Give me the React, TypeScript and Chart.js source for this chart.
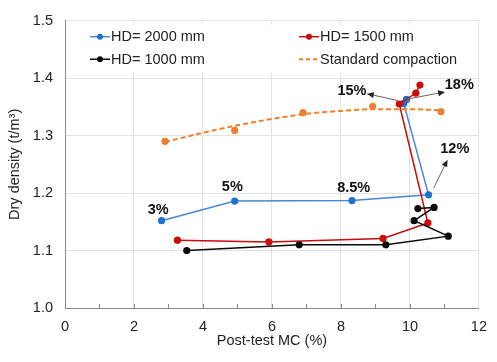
import React, { useEffect, useRef } from 'react';
import { Chart, registerables } from 'chart.js';

Chart.register(...registerables);

const FONT = '"Liberation Sans", Arial, sans-serif';

// ---- data ----
const blueX = [2.8, 4.92, 8.32, 10.54, 9.82, 9.9];
const blueY = [1.152, 1.186, 1.187, 1.197, 1.356, 1.363];

const redX = [3.26, 5.91, 9.22, 10.52, 9.69, 10.17, 10.29];
const redY = [1.118, 1.115, 1.121, 1.148, 1.355, 1.374, 1.388];

const blackX = [3.53, 6.79, 9.3, 11.11, 10.12, 10.7, 10.23];
const blackY = [1.1, 1.11, 1.11, 1.125, 1.152, 1.175, 1.173];

const stdX = [2.9, 4.92, 6.9, 8.92, 10.9];
const stdY = [1.29, 1.309, 1.34, 1.351, 1.342];

const trendX = [2.9, 4, 5, 6, 7, 8, 9, 10, 10.9];
const trendY = [1.289, 1.305, 1.318, 1.329, 1.338, 1.343, 1.346, 1.346, 1.344];

const seriesNames = ['HD= 2000 mm', 'HD= 1500 mm', 'HD= 1000 mm', 'Standard compaction'];

const annoLabels = ['3%', '5%', '8.5%', '12%', '15%', '18%'];
const annoX = [2.7, 4.85, 8.37, 11.3, 8.32, 11.43];
const annoY = [1.171, 1.21, 1.208, 1.276, 1.377, 1.388];

const arrowFromX = [10.69, 9.65, 9.87];
const arrowFromY = [1.209, 1.361, 1.363];
const arrowToX = [11.09, 8.75, 11.02];
const arrowToY = [1.258, 1.373, 1.376];

const xTitle = 'Post-test MC (%)';
const yTitle = 'Dry density (t/m³)';

const BLUE_LINE = '#4a86d8';
const BLUE_PT = '#1c72cf';
const RED = '#cc0a0a';
const BLACK = '#0a0a0a';
const ORANGE = '#f07f2e';

const zip = (xs: number[], ys: number[]) => xs.map((x, i) => ({ x, y: ys[i] }));

const legendPlugin = {
  id: 'customLegend',
  beforeDatasetsDraw(chart: any) {
    const { ctx, chartArea: a } = chart;
    ctx.save();
    ctx.fillStyle = '#ffffff';
    ctx.fillRect(a.left + 1, a.top + 4, a.right - a.left - 2, 48);
    const colors = [BLUE_LINE, RED, BLACK, ORANGE];
    const ptColors = [BLUE_PT, RED, BLACK, ORANGE];
    seriesNames.forEach((name, i) => {
      const col = i % 2;
      const row = Math.floor(i / 2);
      const sx = a.left + (col ? 234 : 25);
      const sy = a.top + (row ? 38.5 : 16);
      ctx.strokeStyle = colors[i];
      ctx.lineWidth = i === 3 ? 2 : 1.5;
      ctx.setLineDash(i === 3 ? [4, 3] : []);
      ctx.beginPath();
      ctx.moveTo(sx, sy);
      ctx.lineTo(sx + 20, sy);
      ctx.stroke();
      ctx.setLineDash([]);
      if (i < 3) {
        ctx.fillStyle = ptColors[i];
        ctx.beginPath();
        ctx.arc(sx + 10, sy, 3, 0, Math.PI * 2);
        ctx.fill();
      }
      ctx.fillStyle = '#222';
      ctx.font = `14.5px ${FONT}`;
      ctx.textAlign = 'left';
      ctx.textBaseline = 'middle';
      ctx.fillText(name, sx + 21, sy + 0.5);
    });
    ctx.restore();
  },
  afterDatasetsDraw(chart: any) {
    const { ctx, chartArea: a, scales } = chart;
    const xs = scales.x;
    const ys = scales.y;
    ctx.save();
    // inside minor ticks on x axis
    ctx.strokeStyle = '#888';
    ctx.lineWidth = 1;
    for (let v = Math.ceil(xs.min) + 1; v < xs.max; v++) {
      const px = Math.round(xs.getPixelForValue(v)) + 0.5;
      ctx.beginPath();
      ctx.moveTo(px, a.bottom);
      ctx.lineTo(px, a.bottom - 4);
      ctx.stroke();
    }
    // arrows
    arrowFromX.forEach((fx, i) => {
      const x1 = xs.getPixelForValue(fx);
      const y1 = ys.getPixelForValue(arrowFromY[i]);
      const x2 = xs.getPixelForValue(arrowToX[i]);
      const y2 = ys.getPixelForValue(arrowToY[i]);
      const ang = Math.atan2(y2 - y1, x2 - x1);
      const L = 7;
      const W = 3;
      const bx = x2 - L * Math.cos(ang);
      const by = y2 - L * Math.sin(ang);
      ctx.strokeStyle = '#666';
      ctx.lineWidth = 1;
      ctx.beginPath();
      ctx.moveTo(x1, y1);
      ctx.lineTo(bx, by);
      ctx.stroke();
      ctx.fillStyle = '#222';
      ctx.beginPath();
      ctx.moveTo(x2, y2);
      ctx.lineTo(bx + W * Math.sin(ang), by - W * Math.cos(ang));
      ctx.lineTo(bx - W * Math.sin(ang), by + W * Math.cos(ang));
      ctx.closePath();
      ctx.fill();
    });
    // labels
    ctx.fillStyle = '#111';
    ctx.font = `bold 14.5px ${FONT}`;
    ctx.textAlign = 'center';
    ctx.textBaseline = 'middle';
    annoLabels.forEach((t, i) => {
      ctx.fillText(t, xs.getPixelForValue(annoX[i]), ys.getPixelForValue(annoY[i]));
    });
    ctx.restore();
  },
};

export default function App() {
  const ref = useRef<HTMLCanvasElement | null>(null);
  useEffect(() => {
    if (!ref.current) return;
    const lineDs = (label: string, xs: number[], ys: number[], line: string, pt: string) => ({
      label,
      data: zip(xs, ys),
      showLine: true,
      borderColor: line,
      borderWidth: 1.5,
      backgroundColor: pt,
      pointBackgroundColor: pt,
      pointBorderColor: pt,
      pointBorderWidth: 0,
      pointRadius: 3.6,
      tension: 0,
    });
    const chart = new Chart(ref.current, {
      type: 'scatter',
      data: {
        datasets: [
          {
            label: 'trend',
            data: zip(trendX, trendY),
            showLine: true,
            borderColor: ORANGE,
            borderWidth: 2,
            borderDash: [5, 3],
            pointRadius: 0,
            tension: 0.4,
            cubicInterpolationMode: 'monotone',
          } as any,
          {
            label: seriesNames[3],
            data: zip(stdX, stdY),
            showLine: false,
            pointBackgroundColor: ORANGE,
            pointBorderColor: ORANGE,
            pointBorderWidth: 0,
            pointRadius: 3.6,
          },
          lineDs(seriesNames[2], blackX, blackY, BLACK, BLACK),
          lineDs(seriesNames[1], redX, redY, RED, RED),
          lineDs(seriesNames[0], blueX, blueY, BLUE_LINE, BLUE_PT),
        ],
      },
      options: {
        animation: false,
        responsive: true,
        maintainAspectRatio: false,
        layout: { padding: { top: 10, right: 9, left: 0, bottom: 0 } },
        plugins: { legend: { display: false }, tooltip: { enabled: false } },
        scales: {
          x: {
            type: 'linear',
            min: 0,
            max: 12,
            afterFit: (s: any) => { s.height = 54; },
            ticks: { stepSize: 2, padding: 10, color: '#222', font: { family: FONT, size: 14.5 } },
            grid: { color: '#e2e2e2', drawTicks: false },
            border: { display: true, color: '#888', width: 1 },
            title: {
              display: true,
              text: xTitle,
              color: '#222',
              font: { family: FONT, size: 14.5 },
              padding: { top: 0, bottom: 12 },
            },
          },
          y: {
            type: 'linear',
            min: 1.0,
            max: 1.5,
            afterFit: (s: any) => { s.width = 65; },
            ticks: {
              stepSize: 0.1,
              padding: 12,
              color: '#222',
              font: { family: FONT, size: 14.5 },
              callback: (v: any) => Number(v).toFixed(1),
            },
            grid: { color: '#e2e2e2', drawTicks: false },
            border: { display: true, color: '#888', width: 1 },
            title: {
              display: true,
              text: yTitle,
              color: '#222',
              font: { family: FONT, size: 14.5 },
              padding: { top: 6, bottom: 0 },
            },
          },
        },
      },
      plugins: [legendPlugin],
    });
    return () => chart.destroy();
  }, []);
  return (
    <div style={{ position: 'absolute', left: 0, top: 0, width: 497, height: 362 }}>
      <canvas ref={ref} />
    </div>
  );
}
